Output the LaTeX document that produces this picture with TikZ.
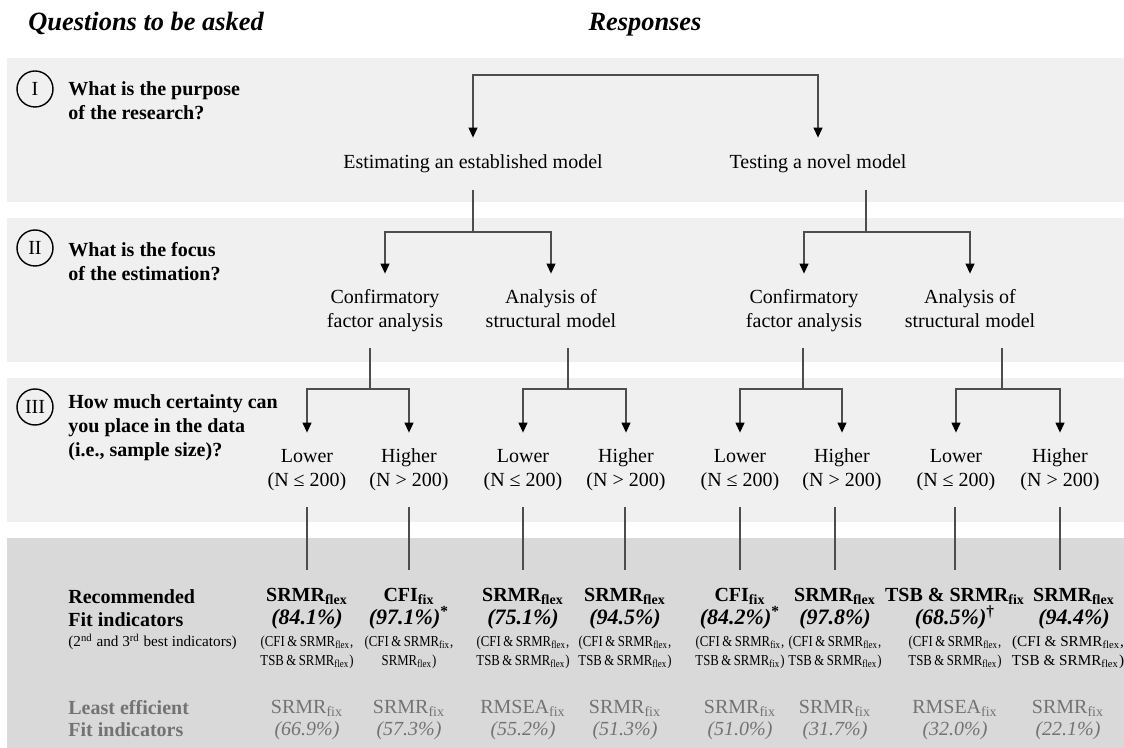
\documentclass[tikz,border=0pt]{standalone}
\usepackage{fontspec}
\setmainfont{Liberation Serif}
\newfontfamily\tightserif{Liberation Serif}[FakeStretch=0.84]
\usetikzlibrary{arrows.meta}
\definecolor{bandlight}{HTML}{F0F0F0}
\definecolor{banddark}{HTML}{D9D9D9}
\definecolor{muted}{HTML}{737373}
\definecolor{wire}{HTML}{4D4D4D}
\newcommand{\fit}[2]{#1\textsubscript{#2}}
\newcommand{\pair}[2]{\strut#1\\\strut#2}

\begin{document}
\begin{tikzpicture}[x=0.5pt, y=-0.5pt, font=\fontsize{10}{12}\selectfont,
    link/.style={draw=wire, line width=0.6pt},
    pick/.style={link, -{Triangle[length=5pt, width=4.5pt, color=black]}},
    answer/.style={align=center, inner xsep=0pt, inner ysep=6.5pt},
    question/.style={anchor=west, align=left, inner sep=0pt, font=\fontsize{10}{12}\selectfont\bfseries},
    heading/.style={inner sep=0pt, font=\fontsize{13.2}{16}\selectfont\bfseries\itshape},
    stage/.style={draw, circle, line width=0.7pt, minimum size=18pt, inner sep=0pt},
    best/.style={align=center, inner xsep=0pt, inner ysep=9pt, font=\fontsize{10}{11.5}\selectfont\bfseries},
    runner/.style={align=center, inner sep=0pt, font=\fontsize{7.6}{9.5}\selectfont\tightserif},
    worst/.style={align=center, inner sep=0pt, text=muted, font=\fontsize{10}{11}\selectfont}]

  \useasboundingbox (0,0) rectangle (1124,748);
  \fill[bandlight] (7,58) rectangle (1124,202);
  \fill[bandlight] (7,218) rectangle (1124,362);
  \fill[bandlight] (7,378) rectangle (1124,522);
  \fill[banddark] (7,538) rectangle (1124,748);

  \node[heading, anchor=base west] (qhead) at (28,30.5) {Questions to be asked};
  \node[heading, anchor=base] (rhead) at (645,30.5) {Responses};

  \node[stage] (c1) at (35,89) {I};
  \node[stage] (c2) at (35,248) {II};
  \node[stage] (c3) at (35,407) {III};
  \node[question] (q1) at (68,101) {What is the purpose\\of the research?};
  \node[question] (q2) at (68,262) {What is the focus\\of the estimation?};
  \node[question] (q3) at (68,428) {How much certainty can\\you place in the data\\(i.e., sample size)?};

  \node[answer, inner ysep=7pt] (est) at (473,164) {\strut Estimating an established model};
  \node[answer, inner ysep=7pt] (tst) at (818,164) {\strut Testing a novel model};

  \node[answer] (cfa1) at (385,311) {\pair{Confirmatory}{factor analysis}};
  \node[answer] (asm1) at (551,311) {\pair{Analysis of}{structural model}};
  \node[answer] (cfa2) at (804,311) {\pair{Confirmatory}{factor analysis}};
  \node[answer] (asm2) at (970,311) {\pair{Analysis of}{structural model}};

  \foreach \n/\x in {1/307, 3/523, 5/740, 7/956}
    \node[answer] (s\n) at (\x,470) {\pair{Lower}{(N ≤ 200)}};
  \foreach \n/\x in {2/409, 4/626, 6/842, 8/1060}
    \node[answer] (s\n) at (\x,470) {\pair{Higher}{(N > 200)}};

  \coordinate (root) at (646,75);
  \coordinate (j1) at (473,232);
  \coordinate (j2) at (866,232);
  \coordinate (k1) at (370,389);
  \coordinate (k2) at (568,389);
  \coordinate (k3) at (803,389);
  \coordinate (k4) at (1002,389);

  \draw[pick] (root) -| (est.north);
  \draw[pick] (root) -| (tst.north);
  \draw[link] (est.south) -- (j1);
  \draw[link] (j2 |- tst.south) -- (j2);
  \draw[pick] (j1) -| (cfa1.north);
  \draw[pick] (j1) -| (asm1.north);
  \draw[pick] (j2) -| (cfa2.north);
  \draw[pick] (j2) -| (asm2.north);
  \draw[link] (k1 |- cfa1.south) -- (k1);
  \draw[link] (k2 |- asm1.south) -- (k2);
  \draw[link] (k3 |- cfa2.south) -- (k3);
  \draw[link] (k4 |- asm2.south) -- (k4);
  \draw[pick] (k1) -| (s1.north);
  \draw[pick] (k1) -| (s2.north);
  \draw[pick] (k2) -| (s3.north);
  \draw[pick] (k2) -| (s4.north);
  \draw[pick] (k3) -| (s5.north);
  \draw[pick] (k3) -| (s6.north);
  \draw[pick] (k4) -| (s7.north);
  \draw[pick] (k4) -| (s8.north);

  % bottom band: one column per branch of the tree
  \node[best, anchor=west, align=left] (lbest) at (68,608.5) {Recommended\\Fit indicators};
  \node[runner, anchor=west, font=\fontsize{7.6}{9.5}\selectfont] (lrun) at (68,642) {(2\textsuperscript{nd} and 3\textsuperscript{rd} best indicators)};
  \node[worst, anchor=west, align=left, font=\fontsize{10}{11}\selectfont\bfseries] (lworst) at (68,719) {Least efficient\\Fit indicators};

  \node[best] (r1) at (307,608.5) {\fit{SRMR}{flex}\\\fontsize{11}{11.5}\selectfont\textit{(84.1\%)}};
  \node[best] (r2) at (409,608.5) {\fit{CFI}{fix}\\\fontsize{11}{11.5}\selectfont\textit{(97.1\%)}\textsuperscript{*}};
  \node[best] (r3) at (523,608.5) {\fit{SRMR}{flex}\\\fontsize{11}{11.5}\selectfont\textit{(75.1\%)}};
  \node[best] (r4) at (625,608.5) {\fit{SRMR}{flex}\\\fontsize{11}{11.5}\selectfont\textit{(94.5\%)}};
  \node[best] (r5) at (740,608.5) {\fit{CFI}{fix}\\\fontsize{11}{11.5}\selectfont\textit{(84.2\%)}\textsuperscript{*}};
  \node[best] (r6) at (835,608.5) {\fit{SRMR}{flex}\\\fontsize{11}{11.5}\selectfont\textit{(97.8\%)}};
  \node[best] (r7) at (955,608.5) {TSB \& \fit{SRMR}{fix}\\\fontsize{11}{11.5}\selectfont\textit{(68.5\%)}\textsuperscript{†}};
  \node[best] (r8) at (1074,608.5) {\fit{SRMR}{flex}\\\fontsize{11}{11.5}\selectfont\textit{(94.4\%)}};

  \foreach \n in {1,...,7}
    \draw[link] (r\n.north |- s\n.south) -- (r\n.north);
  \draw[link] (s8.south) -- (s8.south |- r8.north);

  \node[runner] (a1) at (307,652) {(CFI\,\&\,\fit{SRMR}{flex},\\TSB\,\&\,\fit{SRMR}{flex})};
  \node[runner] (a2) at (409,652) {(CFI\,\&\,\fit{SRMR}{fix},\\\fit{SRMR}{flex})};
  \node[runner] (a3) at (523,652) {(CFI\,\&\,\fit{SRMR}{flex},\\TSB\,\&\,\fit{SRMR}{flex})};
  \node[runner] (a4) at (625,652) {(CFI\,\&\,\fit{SRMR}{flex},\\TSB\,\&\,\fit{SRMR}{flex})};
  \node[runner] (a5) at (740,652) {(CFI\,\&\,\fit{SRMR}{fix},\\TSB\,\&\,\fit{SRMR}{fix})};
  \node[runner] (a6) at (835,652) {(CFI\,\&\,\fit{SRMR}{flex},\\TSB\,\&\,\fit{SRMR}{flex})};
  \node[runner] (a7) at (955,652) {(CFI\,\&\,\fit{SRMR}{flex},\\TSB\,\&\,\fit{SRMR}{flex})};
  \node[runner, font=\fontsize{7.6}{9.5}\selectfont] (a8) at (1068,652) {(CFI \& \fit{SRMR}{flex},\\TSB \& \fit{SRMR}{flex})};

  \node[worst] (w1) at (307,720) {\fit{SRMR}{fix}\\\textit{(66.9\%)}};
  \node[worst] (w2) at (409,720) {\fit{SRMR}{fix}\\\textit{(57.3\%)}};
  \node[worst] (w3) at (523,720) {\fit{RMSEA}{fix}\\\textit{(55.2\%)}};
  \node[worst] (w4) at (625,720) {\fit{SRMR}{fix}\\\textit{(51.3\%)}};
  \node[worst] (w5) at (740,720) {\fit{SRMR}{fix}\\\textit{(51.0\%)}};
  \node[worst] (w6) at (835,720) {\fit{SRMR}{fix}\\\textit{(31.7\%)}};
  \node[worst] (w7) at (955,720) {\fit{RMSEA}{fix}\\\textit{(32.0\%)}};
  \node[worst] (w8) at (1068,720) {\fit{SRMR}{fix}\\\textit{(22.1\%)}};
\end{tikzpicture}
\end{document}
